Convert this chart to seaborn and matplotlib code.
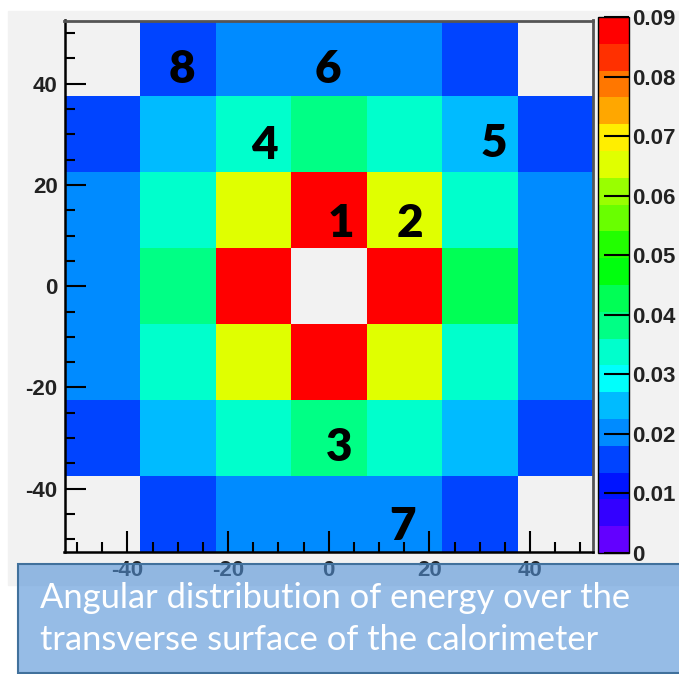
import colorsys
import matplotlib
matplotlib.use("Agg")
import matplotlib.pyplot as plt
from matplotlib.colors import ListedColormap, to_rgba
from matplotlib.patches import Rectangle
from matplotlib.ticker import MultipleLocator
import numpy as np
import pandas as pd
import seaborn as sns

# centres des cellules (degres), ligne du haut en premier
x_centers = [-45, -30, -15, 0, 15, 30, 45]
y_centers = [45, 30, 15, 0, -15, -30, -45]

# fraction d'energie par cellule (vide = pas de cristal)
energy = [
    [np.nan, 0.016, 0.020, 0.020, 0.020, 0.016, np.nan],
    [0.016, 0.025, 0.034, 0.038, 0.034, 0.025, 0.016],
    [0.020, 0.034, 0.065, 0.088, 0.065, 0.034, 0.020],
    [0.020, 0.038, 0.088, np.nan, 0.088, 0.043, 0.020],
    [0.020, 0.034, 0.065, 0.088, 0.065, 0.034, 0.020],
    [0.016, 0.025, 0.034, 0.038, 0.034, 0.025, 0.016],
    [np.nan, 0.016, 0.020, 0.020, 0.020, 0.016, np.nan],
]

axis_ticks = [-40, -20, 0, 20, 40]
z_ticks = [0, 0.01, 0.02, 0.03, 0.04, 0.05, 0.06, 0.07, 0.08, 0.09]
z_labels = ["0", "0.01", "0.02", "0.03", "0.04", "0.05", "0.06", "0.07", "0.08", "0.09"]

# numeros des cristaux
cell_ids = ["8", "6", "4", "5", "1", "2", "3", "7"]
id_x = [-29.2, -0.1, -12.8, 32.8, 2.4, 16.1, 2.0, 14.7]
id_y = [40.1, 40.1, 25.1, 25.6, 9.8, 9.8, -34.5, -50.2]

caption_lines = [
    "Angular distribution of energy over the",
    "transverse surface of the calorimeter",
]

plt.rcParams["font.family"] = ["Liberation Sans", "DejaVu Sans"]
plt.rcParams["axes.unicode_minus"] = False

# palette ROOT "pretty" (violet -> rouge), 20 niveaux de contour
n_levels = 20
hues = [280 - (int((k + 0.99) * 50 / n_levels) + 1) * 5.6 for k in range(n_levels)]
palette = ListedColormap([colorsys.hls_to_rgb(h / 360, 0.5, 1.0) for h in hues])

W, H = 679, 674
fig = plt.figure(figsize=(W / 100, H / 100), dpi=100)
fig.patch.set_facecolor("white")

# fond gris du pad
fig.add_artist(Rectangle((8 / W, 1 - 585 / H), 1, (585 - 11) / H,
                         transform=fig.transFigure, color="#f2f2f2", zorder=-5))

ax = fig.add_axes([64.5 / W, 1 - 552 / H, 528.5 / W, 531.5 / H])
cax = fig.add_axes([598 / W, 1 - 553 / H, 31 / W, 536 / H])

df = pd.DataFrame(energy, index=y_centers, columns=x_centers)
sns.heatmap(df, ax=ax, cmap=palette, vmin=0, vmax=0.09, cbar_ax=cax,
            xticklabels=False, yticklabels=False, cbar_kws={"ticks": z_ticks})
ax.set_facecolor("#f2f2f2")
ax.set_xlabel("")
ax.set_ylabel("")

# axes numeriques par dessus
half = (x_centers[1] - x_centers[0]) / 2
frame = fig.add_axes(ax.get_position(), facecolor="none")
frame.set_xlim(x_centers[0] - half, x_centers[-1] + half)
frame.set_ylim(y_centers[-1] - half, y_centers[0] + half)
frame.set_xticks(axis_ticks)
frame.set_yticks(axis_ticks)
frame.xaxis.set_minor_locator(MultipleLocator(5))
frame.yaxis.set_minor_locator(MultipleLocator(5))
frame.tick_params(which="both", direction="in", top=False, right=False,
                  width=1.5, color="black", labelsize=16)
frame.tick_params(which="major", length=15)
frame.tick_params(which="minor", length=7)
frame.tick_params(axis="y", pad=5)
frame.tick_params(axis="x", pad=6)
plt.setp(frame.get_xticklabels() + frame.get_yticklabels(),
         fontweight="bold", color="#222222")
for side in ["left", "bottom"]:
    frame.spines[side].set_color("black")
    frame.spines[side].set_linewidth(1.8)
for side in ["top", "right"]:
    frame.spines[side].set_color("#555555")
    frame.spines[side].set_linewidth(2)

for s, x, y in zip(cell_ids, id_x, id_y):
    frame.text(x, y, s, fontsize=33, fontweight="heavy", family="Lato",
               ha="center", va="baseline", color="black")

# barre de couleur
cbar = ax.collections[0].colorbar
cbar.outline.set_linewidth(1)
cbar.outline.set_edgecolor("black")
cax.tick_params(direction="in", length=18, width=1.5, color="black",
                right=True, left=False, labelsize=16, pad=2)
cax.set_yticklabels(z_labels, fontweight="bold", color="#222222")

# encadre de legende
fig.add_artist(Rectangle((18 / W, 1 - 673 / H), 1, (673 - 564) / H,
                         transform=fig.transFigure,
                         facecolor=to_rgba("#5090d6", 0.6),
                         edgecolor="#41719c", linewidth=1.5, zorder=10))
fig.text(40 / W, 1 - 608 / H, caption_lines[0], color="white", fontsize=24.8,
         family="Lato", va="baseline", zorder=11)
fig.text(40 / W, 1 - 650 / H, caption_lines[1], color="white", fontsize=24.8,
         family="Lato", va="baseline", zorder=11)

fig.savefig("out.png", dpi=100)
